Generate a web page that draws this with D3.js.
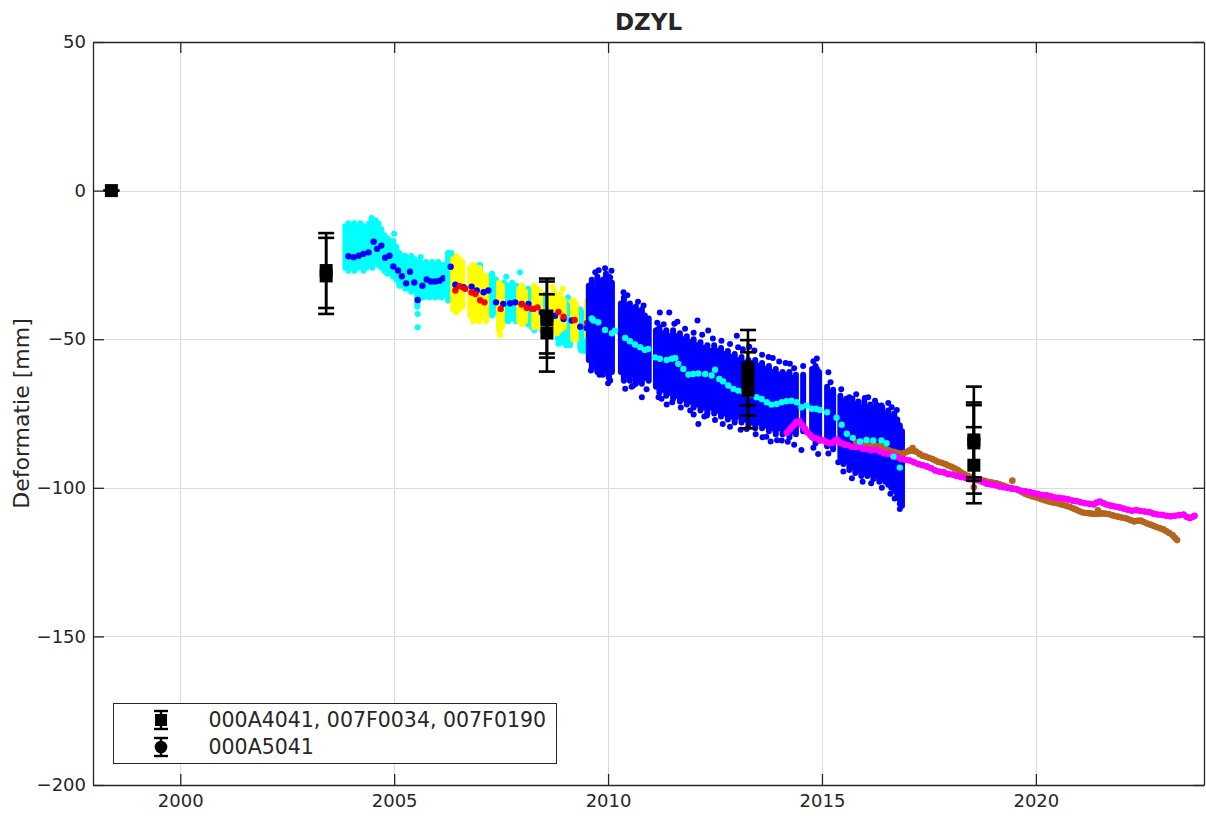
<!DOCTYPE html>
<html>
<head>
<meta charset="utf-8">
<script src="https://cdn.jsdelivr.net/npm/d3@7"></script>
<style>
  body { margin: 0; background: #fff; }
  text { font-family: "DejaVu Sans", sans-serif; fill: #262626; }
</style>
</head>
<body>
<svg id="chart" width="1206" height="819"></svg>
<script>
// ---- axis ticks -----------------------------------------------------------
const xTicks = [2000, 2005, 2010, 2015, 2020];
const yTicks = [50, 0, -50, -100, -150, -200];

// ---- ERS (cyan cloud, blue means) : [year, low, high] in mm -----------------
const ersColumns = [
  [2003.86, -26, -12], [2003.93, -27, -11], [2004.00, -25, -12], [2004.07, -27, -11],
  [2004.14, -26, -13], [2004.21, -25, -11], [2004.28, -27, -12], [2004.35, -26, -12],
  [2004.42, -25, -11], [2004.49, -26, -10], [2004.56, -24, -10], [2004.63, -25, -11],
  [2004.70, -26, -13], [2004.77, -27, -15], [2004.84, -28, -16], [2004.91, -28, -17],
  [2004.98, -29, -17], [2005.05, -30, -19], [2005.12, -32, -21], [2005.19, -32, -22],
  [2005.26, -33, -22], [2005.33, -33, -23], [2005.40, -34, -22], [2005.47, -33, -23],
  [2005.54, -39, -24], [2005.61, -36, -24], [2005.68, -36, -25], [2005.75, -35, -24],
  [2005.82, -36, -25], [2005.89, -35, -24], [2005.96, -36, -25], [2006.03, -35, -24],
  [2006.10, -36, -25], [2006.17, -35, -25]
];
const ersOutliers = [[2005.55, -41.5], [2005.55, -46], [2004.47, -9.2], [2005.00, -14.5], [2005.62, -22.3]];
const ersMeans = [
  [2003.93, -22.1], [2004.05, -22.4], [2004.17, -21.9], [2004.28, -21.3], [2004.40, -20.8],
  [2004.52, -17.2], [2004.60, -19.6], [2004.70, -18.5], [2004.79, -22.6], [2004.89, -21.9],
  [2004.98, -25.5], [2005.09, -26.9], [2005.18, -28.8], [2005.28, -31.2], [2005.37, -27.3],
  [2005.47, -30.9], [2005.55, -36.8], [2005.66, -32.0], [2005.76, -29.9], [2005.86, -30.6],
  [2005.96, -30.6], [2006.06, -30.3], [2006.15, -29.5]
];

// ---- Envisat descending (cyan cloud, blue means) ----------------------------
const envCyanColumns = [
  [2006.26, -37, -21], [2006.33, -36, -21], [2007.00, -38, -25], [2007.20, -41, -29],
  [2007.29, -42, -28], [2007.38, -41, -30], [2007.57, -43, -31], [2007.66, -44, -32],
  [2007.76, -43, -31], [2007.85, -44, -32], [2008.13, -45, -33], [2008.22, -46, -34],
  [2008.46, -47, -35], [2008.55, -47, -35], [2008.83, -50, -37], [2008.93, -51, -37],
  [2009.02, -52, -38], [2009.11, -52, -39], [2009.35, -53, -40], [2009.44, -54, -41],
  [2009.67, -54, -42], [2009.91, -55, -43], [2010.09, -56, -44]
];
const envCyanOutliers = [
  [2007.01, -25.2], [2007.94, -27.5], [2008.28, -47.0], [2008.84, -51.5],
  [2009.11, -51.5], [2009.37, -53.8], [2007.62, -29.0], [2009.06, -36.0]
];
const envCyanMeans = [
  [2006.32, -25.6], [2006.43, -31.7], [2006.62, -32.5], [2006.81, -32.3], [2006.93, -33.6],
  [2007.09, -34.2], [2007.20, -33.6], [2007.38, -37.6], [2007.55, -38.1], [2007.71, -37.9],
  [2007.83, -37.6], [2007.98, -38.1], [2008.14, -38.1], [2008.25, -39.8], [2008.45, -41.0],
  [2008.60, -41.5], [2008.76, -42.1], [2008.96, -43.2], [2009.15, -43.7], [2009.35, -45.8],
  [2009.50, -46.2], [2009.66, -46.2], [2009.85, -47.3], [2010.05, -48.5]
];

// ---- Envisat ascending (yellow cloud, red means) ----------------------------
const envYellowColumns = [
  [2006.38, -40, -23], [2006.45, -41, -22], [2006.52, -40, -23], [2006.59, -39, -24],
  [2006.78, -42, -26], [2006.85, -44, -25], [2006.92, -43, -27], [2006.99, -44, -26],
  [2007.06, -42, -28], [2007.15, -44, -29], [2007.45, -47, -31], [2007.52, -46, -32],
  [2007.92, -44, -33], [2007.99, -45, -32], [2008.06, -44, -34], [2008.27, -46, -32],
  [2008.34, -45, -33], [2008.41, -46, -34], [2008.67, -48, -35], [2008.74, -47, -34],
  [2008.81, -48, -36], [2008.88, -47, -35], [2008.97, -46, -37], [2009.18, -50, -37],
  [2009.25, -50, -38], [2009.51, -49, -37], [2009.58, -51, -38], [2010.30, -52, -40],
  [2010.37, -53, -41]
];
const envYellowOutliers = [[2008.94, -33.1], [2009.81, -52.5], [2007.48, -48.6], [2008.70, -32.4]];
const envYellowMeans = [
  [2006.43, -33.6], [2006.53, -32.2], [2006.66, -33.0], [2006.81, -34.3], [2006.90, -34.8],
  [2007.01, -36.9], [2007.11, -37.6], [2007.49, -39.8], [2007.98, -38.3], [2008.10, -39.5],
  [2008.23, -39.8], [2008.35, -39.3], [2008.84, -40.8], [2008.96, -42.4], [2009.22, -43.5],
  [2009.51, -44.5], [2009.62, -45.8], [2009.72, -47.1], [2009.84, -46.3], [2010.29, -47.9],
  [2010.39, -46.8], [2010.49, -49.0], [2010.67, -50.5]
];

// ---- Radarsat-2 (blue cloud, cyan means) ------------------------------------
const rsColumns = [
  [2009.55, -57, -32], [2009.62, -60, -30], [2009.68, -58, -33], [2009.75, -61, -29],
  [2009.82, -59, -31], [2009.88, -62, -30], [2009.95, -60, -28], [2010.02, -63, -29],
  [2010.09, -61, -31],
  [2010.30, -61, -38], [2010.37, -64, -36], [2010.44, -62, -39], [2010.51, -64, -38],
  [2010.58, -62, -40], [2010.65, -65, -39], [2010.72, -63, -41], [2010.79, -65, -40],
  [2010.86, -63, -42], [2010.95, -64, -43],
  [2011.12, -66, -47], [2011.20, -68, -46], [2011.28, -67, -48], [2011.36, -69, -47],
  [2011.44, -68, -49], [2011.52, -70, -47], [2011.60, -69, -49], [2011.68, -71, -48],
  [2011.76, -70, -50], [2011.84, -72, -49], [2011.92, -71, -51], [2012.00, -73, -50],
  [2012.08, -72, -52], [2012.16, -74, -51], [2012.24, -73, -53], [2012.32, -75, -52],
  [2012.40, -73, -54], [2012.48, -75, -52], [2012.56, -74, -54], [2012.64, -76, -53],
  [2012.72, -75, -55], [2012.80, -77, -54], [2012.88, -76, -56], [2012.96, -78, -55],
  [2013.04, -76, -57], [2013.12, -78, -56], [2013.20, -77, -58], [2013.28, -79, -57],
  [2013.36, -78, -58], [2013.44, -80, -57], [2013.52, -78, -59], [2013.60, -80, -58],
  [2013.68, -79, -60], [2013.76, -81, -59], [2013.84, -80, -61], [2013.92, -82, -60],
  [2014.00, -80, -62], [2014.08, -82, -61], [2014.16, -81, -62], [2014.24, -83, -61],
  [2014.32, -81, -63], [2014.39, -82, -62],
  [2014.56, -81, -62],
  [2014.77, -83, -60], [2014.85, -85, -59], [2014.93, -84, -61],
  [2015.12, -86, -66], [2015.19, -85, -68], [2015.26, -87, -67],
  [2015.43, -90, -69], [2015.50, -92, -71], [2015.57, -91, -70], [2015.64, -94, -72],
  [2015.71, -93, -70], [2015.78, -95, -72], [2015.85, -94, -71], [2015.92, -96, -73],
  [2015.99, -95, -71], [2016.06, -96, -73], [2016.13, -95, -72], [2016.20, -97, -73],
  [2016.27, -96, -72], [2016.34, -98, -74], [2016.41, -97, -73], [2016.48, -98, -75],
  [2016.55, -99, -74], [2016.62, -100, -76], [2016.69, -101, -75], [2016.76, -103, -77],
  [2016.82, -104, -79], [2016.87, -106, -81]
];
const rsOutliers = [
  [2009.93, -26.1], [2010.05, -29.2], [2010.36, -34.2], [2010.51, -39.3], [2010.83, -38.7],
  [2010.90, -43.2], [2011.21, -41.0], [2011.43, -41.0], [2011.62, -44.1], [2012.09, -43.7],
  [2012.34, -47.1], [2013.01, -48.8], [2013.04, -52.7], [2013.42, -53.8], [2013.85, -56.3],
  [2014.25, -58.3], [2014.88, -60.0], [2015.15, -61.1], [2015.64, -69.5], [2016.08, -69.5],
  [2016.24, -70.7], [2016.39, -72.3], [2016.63, -72.9],
  [2010.05, -63.9], [2010.40, -66.7], [2010.59, -65.6], [2010.79, -69.5], [2011.18, -69.5],
  [2011.37, -72.0], [2011.92, -74.0], [2012.11, -78.5], [2012.31, -75.7], [2012.68, -78.5],
  [2013.24, -80.2], [2013.61, -83.0], [2013.80, -84.4], [2014.06, -84.1], [2014.52, -87.3],
  [2014.91, -88.6], [2015.38, -91.4], [2016.82, -105.4], [2016.82, -107.1],
  [2009.70, -27.5], [2009.78, -26.8], [2010.08, -27.0], [2010.45, -35.2], [2010.70, -37.4],
  [2011.15, -44.5], [2011.30, -45.0], [2011.55, -44.8], [2011.80, -46.5], [2012.00, -47.8],
  [2012.20, -48.5], [2012.45, -49.8], [2012.65, -50.5], [2012.85, -51.6], [2013.15, -53.4],
  [2013.30, -52.5], [2013.60, -55.2], [2013.75, -56.0], [2014.00, -57.5], [2014.15, -58.0],
  [2014.35, -59.8], [2014.56, -59.0], [2014.80, -57.4], [2014.88, -56.5], [2015.20, -64.5],
  [2015.45, -66.8], [2015.80, -68.5], [2016.00, -69.8], [2016.55, -71.5], [2016.75, -73.8],
  [2009.60, -60.5], [2009.80, -62.0], [2010.00, -64.8], [2010.55, -66.0], [2010.90, -66.8],
  [2011.25, -70.0], [2011.50, -71.2], [2011.70, -73.0], [2012.00, -75.3], [2012.25, -76.0],
  [2012.50, -77.2], [2012.85, -79.5], [2013.10, -80.5], [2013.45, -82.0], [2013.70, -82.8],
  [2013.95, -84.0], [2014.20, -84.5], [2014.35, -85.5], [2014.80, -86.5], [2015.15, -88.5],
  [2015.50, -94.5], [2015.70, -96.8], [2015.95, -98.0], [2016.15, -98.5], [2016.40, -100.0],
  [2016.60, -102.0], [2016.70, -103.6]
];
const rsMeans = [
  [2009.62, -43.0], [2009.66, -43.7], [2009.77, -44.3], [2009.93, -46.9], [2010.09, -48.0],
  [2010.16, -47.1], [2010.40, -49.6], [2010.51, -50.7], [2010.63, -51.8], [2010.75, -52.7],
  [2010.86, -53.6], [2010.94, -53.3], [2011.10, -56.1], [2011.21, -56.6], [2011.37, -57.0],
  [2011.49, -56.6], [2011.57, -56.3], [2011.64, -58.3], [2011.76, -60.0], [2011.88, -61.9],
  [2011.99, -61.7], [2012.11, -61.5], [2012.27, -61.7], [2012.42, -62.2], [2012.50, -60.3],
  [2012.60, -63.4], [2012.69, -64.2], [2012.81, -65.6], [2012.93, -66.7], [2013.04, -67.3],
  [2013.16, -67.8], [2013.30, -68.6], [2013.47, -69.5], [2013.59, -70.1], [2013.71, -71.2],
  [2013.82, -72.0], [2013.94, -71.8], [2014.06, -71.2], [2014.17, -70.9], [2014.29, -70.7],
  [2014.41, -71.2], [2014.52, -72.9], [2014.64, -72.3], [2014.76, -73.4], [2014.86, -73.4],
  [2014.95, -73.8], [2015.12, -74.6], [2015.34, -76.4], [2015.46, -78.8], [2015.58, -81.8],
  [2015.72, -83.2], [2015.89, -84.4], [2016.04, -83.9], [2016.20, -84.1], [2016.39, -84.1],
  [2016.51, -85.0], [2016.67, -89.5], [2016.82, -93.2]
];

// ---- Sentinel-1 series (magenta, brown) -------------------------------------
const s1Magenta = [
  [2014.18, -81.5], [2014.25, -80.4], [2014.30, -79.5], [2014.36, -78.6], [2014.40, -77.9],
  [2014.47, -77.6], [2014.53, -78.9], [2014.60, -80.1], [2014.66, -81.4], [2014.73, -82.3],
  [2014.80, -83.2], [2014.88, -83.4], [2014.95, -84.1], [2015.03, -84.0], [2015.10, -84.6],
  [2015.18, -85.0], [2015.25, -84.8], [2015.30, -84.2], [2015.35, -83.8], [2015.40, -84.6],
  [2015.45, -85.0], [2015.52, -85.4], [2015.60, -85.6], [2015.70, -86.2], [2015.80, -86.3],
  [2015.88, -85.9], [2015.95, -86.9], [2016.05, -87.0], [2016.15, -87.4], [2016.25, -87.1],
  [2016.35, -87.8], [2016.45, -88.4], [2016.55, -88.6], [2016.65, -89.0], [2016.75, -89.6],
  [2016.85, -90.3], [2016.95, -90.6], [2017.05, -90.8], [2017.15, -91.4], [2017.25, -92.0],
  [2017.35, -92.4], [2017.45, -92.8], [2017.55, -93.4], [2017.65, -94.2], [2017.75, -94.6],
  [2017.85, -94.8], [2017.95, -95.4], [2018.05, -95.5], [2018.15, -96.0], [2018.25, -96.4],
  [2018.35, -96.6], [2018.45, -97.1], [2018.55, -97.3], [2018.65, -97.5], [2018.75, -98.0],
  [2018.85, -98.6], [2018.95, -98.9], [2019.05, -99.1], [2019.15, -99.6], [2019.25, -99.8],
  [2019.35, -100.1], [2019.45, -100.3], [2019.55, -100.5], [2019.65, -101.0], [2019.75, -101.2],
  [2019.85, -101.4], [2019.95, -101.8], [2020.05, -102.1], [2020.15, -102.4], [2020.25, -102.5],
  [2020.35, -102.9], [2020.45, -103.3], [2020.55, -103.4], [2020.65, -103.6], [2020.75, -103.9],
  [2020.85, -104.3], [2020.95, -104.5], [2021.05, -104.9], [2021.15, -105.2], [2021.25, -105.4],
  [2021.35, -105.6], [2021.42, -105.0], [2021.50, -104.6], [2021.58, -105.2], [2021.65, -105.6],
  [2021.75, -106.0], [2021.85, -106.3], [2021.95, -106.6], [2022.05, -107.0], [2022.15, -107.4],
  [2022.25, -107.7], [2022.35, -107.5], [2022.45, -107.8], [2022.55, -108.0], [2022.65, -108.2],
  [2022.75, -108.7], [2022.85, -109.0], [2022.95, -109.1], [2023.05, -109.4], [2023.15, -109.6],
  [2023.25, -109.4], [2023.35, -109.2], [2023.45, -109.0], [2023.53, -109.8], [2023.60, -110.2],
  [2023.66, -109.8], [2023.71, -109.4]
];
const s1Brown = [
  [2015.80, -84.7], [2015.88, -84.6], [2015.95, -85.0], [2016.03, -85.3], [2016.10, -85.4],
  [2016.18, -85.5], [2016.25, -85.8], [2016.33, -86.0], [2016.40, -86.4], [2016.48, -86.9],
  [2016.55, -87.3], [2016.63, -87.8], [2016.70, -88.0], [2016.78, -88.3], [2016.85, -88.6],
  [2016.93, -88.2], [2017.00, -87.8], [2017.05, -87.4], [2017.10, -87.5], [2017.15, -87.6],
  [2017.20, -87.8], [2017.28, -88.6], [2017.35, -89.2], [2017.42, -89.5], [2017.50, -89.9],
  [2017.58, -90.3], [2017.65, -90.8], [2017.72, -91.3], [2017.80, -91.6], [2017.88, -92.0],
  [2017.95, -92.5], [2018.03, -92.9], [2018.10, -93.4], [2018.18, -94.0], [2018.25, -94.8],
  [2018.32, -95.4], [2018.40, -96.0], [2018.48, -96.4], [2018.55, -96.8],
  [2018.62, -97.1], [2018.70, -97.4], [2018.78, -97.6], [2018.85, -97.9], [2018.93, -98.1],
  [2019.00, -98.3], [2019.08, -98.5], [2019.15, -98.8], [2019.22, -99.2], [2019.30, -99.6],
  [2019.38, -100.0], [2019.45, -100.2], [2019.52, -100.4], [2019.60, -100.8], [2019.68, -101.5],
  [2019.75, -102.0], [2019.82, -102.4], [2019.90, -102.8], [2019.98, -103.1], [2020.05, -103.4],
  [2020.12, -103.8], [2020.20, -104.2], [2020.28, -104.5], [2020.35, -104.8], [2020.42, -105.0],
  [2020.50, -105.2], [2020.58, -105.5], [2020.65, -105.8], [2020.72, -106.1], [2020.80, -106.5],
  [2020.88, -107.0], [2020.95, -107.4], [2021.02, -107.9], [2021.10, -108.3], [2021.18, -108.5],
  [2021.25, -108.6], [2021.32, -108.7], [2021.40, -108.8], [2021.48, -108.7], [2021.55, -108.6],
  [2021.62, -108.7], [2021.70, -108.8], [2021.78, -109.2], [2021.85, -109.5], [2021.92, -109.7],
  [2022.00, -110.0], [2022.08, -110.2], [2022.15, -110.5], [2022.22, -110.9], [2022.30, -111.3],
  [2022.38, -111.1], [2022.45, -111.0], [2022.52, -111.5], [2022.60, -112.0], [2022.68, -112.4],
  [2022.75, -112.8], [2022.82, -113.2], [2022.90, -113.6], [2022.98, -114.0], [2023.05, -114.6],
  [2023.12, -115.2], [2023.20, -116.0], [2023.25, -116.8], [2023.30, -117.6]
];
const s1BrownOutliers = [[2018.55, -99.8], [2019.45, -97.6], [2017.12, -86.6], [2021.45, -107.6]];

// ---- levelling benchmarks -------------------------------------------------
// 000A4041, 007F0034, 007F0190 (squares)
const levelYears  = [1998.39, 2003.41, 2003.41, 2008.57, 2008.57, 2008.57, 2013.27, 2013.27, 2013.27, 2018.55, 2018.55, 2018.55];
const levelValues = [0, -26.9, -28.7, -42.2, -43.4, -47.9, -59.6, -63.0, -67.2, -83.9, -84.9, -92.4];
const levelErrors = [0, 12.6, 12.8, 12.6, 12.8, 13.0, 12.7, 12.7, 12.8, 12.6, 12.7, 12.8];
// 000A5041 (circle)
const circleYears  = [2018.55];
const circleValues = [-83.95];
const circleErrors = [18.0];

const legendLabels = ["000A4041, 007F0034, 007F0190", "000A5041"];
const titleText = "DZYL";
const yLabelText = "Deformatie [mm]";

// ---- layout ---------------------------------------------------------------
const W = 1206, H = 819;
const plot = { left: 93, right: 1204, top: 42, bottom: 785 };
const axisColor = "#262626";

const svg = d3.select("#chart");
svg.append("rect").attr("width", W).attr("height", H).attr("fill", "#fff");

const x = d3.scaleLinear().domain([1997.96, 2023.93]).range([plot.left, plot.right]);
const y = d3.scaleLinear().domain([-200, 50]).range([plot.bottom, plot.top]);

// grid
const grid = svg.append("g").attr("stroke", "#dcdcdc").attr("stroke-width", 1);
grid.selectAll(".gx").data(xTicks).join("line")
  .attr("x1", d => Math.round(x(d)) + 0.5).attr("x2", d => Math.round(x(d)) + 0.5)
  .attr("y1", plot.top).attr("y2", plot.bottom);
grid.selectAll(".gy").data(yTicks).join("line")
  .attr("y1", d => Math.round(y(d)) + 0.5).attr("y2", d => Math.round(y(d)) + 0.5)
  .attr("x1", plot.left).attr("x2", plot.right);

// clip region for data
svg.append("clipPath").attr("id", "plotclip").append("rect")
  .attr("x", plot.left).attr("y", plot.top)
  .attr("width", plot.right - plot.left).attr("height", plot.bottom - plot.top);
const g = svg.append("g").attr("clip-path", "url(#plotclip)");

function columns(data, color) {
  g.append("g").selectAll("line").data(data).join("line")
    .attr("x1", d => x(d[0])).attr("x2", d => x(d[0]))
    .attr("y1", d => y(d[1])).attr("y2", d => y(d[2]))
    .attr("stroke", color).attr("stroke-width", 6).attr("stroke-linecap", "round");
}
function dots(data, color, r) {
  g.append("g").selectAll("circle").data(data).join("circle")
    .attr("cx", d => x(d[0])).attr("cy", d => y(d[1])).attr("r", r).attr("fill", color);
}
function trace(data, color) {
  g.append("path").datum(data)
    .attr("d", d3.line().x(d => x(d[0])).y(d => y(d[1])))
    .attr("fill", "none").attr("stroke", color).attr("stroke-width", 5.5)
    .attr("stroke-linejoin", "round");
  dots(data, color, 3.3);
}

const CYAN = "#00ffff", BLUE = "#0000ff", YELLOW = "#ffff00", RED = "#ff0000",
      MAGENTA = "#ff00ff", BROWN = "#b5651d";

// ERS
columns(ersColumns, CYAN);
dots(ersOutliers, CYAN, 3);
dots(ersMeans, BLUE, 3.2);
// Envisat
columns(envCyanColumns, CYAN);
dots(envCyanOutliers, CYAN, 3);
columns(envYellowColumns, YELLOW);
dots(envYellowOutliers, YELLOW, 3);
dots(envCyanMeans, BLUE, 3.2);
dots(envYellowMeans, RED, 3.2);
// Radarsat-2
columns(rsColumns, BLUE);
dots(rsOutliers, BLUE, 3);
// Sentinel-1
trace(s1Brown, BROWN);
dots(s1BrownOutliers, BROWN, 3.3);
trace(s1Magenta, MAGENTA);
dots(rsMeans, CYAN, 3.2);

// levelling with error bars
function errorBars(years, values, errs, shape) {
  const data = years.map((t, i) => ({ t, v: values[i], e: errs[i] }));
  const eb = g.append("g").attr("stroke", "#000").attr("stroke-width", 2.6);
  data.forEach(d => {
    const cx = x(d.t), y0 = y(d.v - d.e), y1 = y(d.v + d.e);
    eb.append("line").attr("x1", cx).attr("x2", cx).attr("y1", y0).attr("y2", y1);
    eb.append("line").attr("x1", cx - 8).attr("x2", cx + 8).attr("y1", y0).attr("y2", y0);
    eb.append("line").attr("x1", cx - 8).attr("x2", cx + 8).attr("y1", y1).attr("y2", y1);
  });
  const m = g.append("g").attr("fill", "#000");
  if (shape === "square") {
    m.selectAll("rect").data(data).join("rect")
      .attr("x", d => x(d.t) - 6.5).attr("y", d => y(d.v) - 6.5)
      .attr("width", 13).attr("height", 13);
  } else {
    m.selectAll("circle").data(data).join("circle")
      .attr("cx", d => x(d.t)).attr("cy", d => y(d.v)).attr("r", 6.5);
  }
}
errorBars(circleYears, circleValues, circleErrors, "circle");
errorBars(levelYears, levelValues, levelErrors, "square");

// axes
const fmt = d3.format("d");
const axB = svg.append("g").attr("transform", `translate(0,${plot.bottom})`)
  .call(d3.axisBottom(x).tickValues(xTicks).tickFormat(fmt).tickSizeInner(-11).tickSizeOuter(0).tickPadding(9));
const axT = svg.append("g").attr("transform", `translate(0,${plot.top})`)
  .call(d3.axisTop(x).tickValues(xTicks).tickFormat("").tickSizeInner(-11).tickSizeOuter(0));
const axL = svg.append("g").attr("transform", `translate(${plot.left},0)`)
  .call(d3.axisLeft(y).tickValues(yTicks).tickFormat(fmt).tickSizeInner(-11).tickSizeOuter(0).tickPadding(7));
const axR = svg.append("g").attr("transform", `translate(${plot.right},0)`)
  .call(d3.axisRight(y).tickValues(yTicks).tickFormat("").tickSizeInner(-11).tickSizeOuter(0));
[axB, axT, axL, axR].forEach(a => {
  a.select(".domain").attr("stroke", axisColor).attr("stroke-width", 1.3);
  a.selectAll(".tick line").attr("stroke", axisColor).attr("stroke-width", 1.3);
  a.selectAll(".tick text").attr("font-size", 18).attr("fill", axisColor)
    .attr("font-family", "DejaVu Sans, sans-serif");
});

// title and axis label
svg.append("text").attr("x", (plot.left + plot.right) / 2).attr("y", 30)
  .attr("text-anchor", "middle").attr("font-weight", "bold").attr("font-size", 23)
  .attr("fill", "#000").text(titleText);
svg.append("text")
  .attr("transform", `translate(29,${(plot.top + plot.bottom) / 2}) rotate(-90)`)
  .attr("text-anchor", "middle").attr("font-size", 22).text(yLabelText);

// legend
const lg = svg.append("g").attr("transform", "translate(113.5,703.5)");
lg.append("rect").attr("width", 443).attr("height", 60)
  .attr("fill", "#fff").attr("stroke", axisColor).attr("stroke-width", 1);
const rows = [
  { label: legendLabels[0], shape: "square", cy: 16.5 },
  { label: legendLabels[1], shape: "circle", cy: 43.5 }
];
rows.forEach(r => {
  const mx = 47.5;
  const e = lg.append("g").attr("stroke", "#000").attr("stroke-width", 2.4);
  e.append("line").attr("x1", mx).attr("x2", mx).attr("y1", r.cy - 9).attr("y2", r.cy + 9);
  e.append("line").attr("x1", mx - 7).attr("x2", mx + 7).attr("y1", r.cy - 9).attr("y2", r.cy - 9);
  e.append("line").attr("x1", mx - 7).attr("x2", mx + 7).attr("y1", r.cy + 9).attr("y2", r.cy + 9);
  if (r.shape === "square") {
    lg.append("rect").attr("x", mx - 6).attr("y", r.cy - 6).attr("width", 12).attr("height", 12).attr("fill", "#000");
  } else {
    lg.append("circle").attr("cx", mx).attr("cy", r.cy).attr("r", 6.3).attr("fill", "#000");
  }
  lg.append("text").attr("x", 95).attr("y", r.cy).attr("dy", "0.36em")
    .attr("font-size", 20.5).attr("fill", "#000").text(r.label);
});
</script>
</body>
</html>
